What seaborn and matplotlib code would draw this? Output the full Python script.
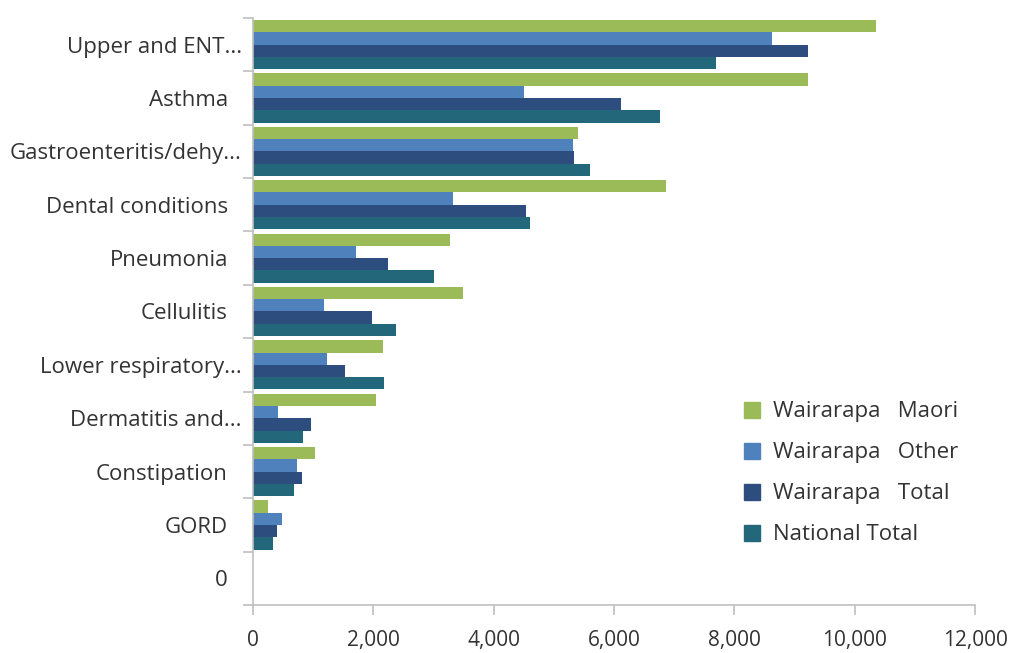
import numpy as np
import pandas as pd
import matplotlib
matplotlib.use("Agg")
import matplotlib.pyplot as plt
from matplotlib.lines import Line2D
from matplotlib.transforms import ScaledTranslation
import seaborn as sns

categories = ["Upper and ENT...", "Asthma", "Gastroenteritis/dehy...", "Dental conditions",
              "Pneumonia", "Cellulitis", "Lower respiratory...", "Dermatitis and...",
              "Constipation", "GORD"]
empty_category = "0"

series_names = ["Wairarapa   Maori", "Wairarapa   Other", "Wairarapa   Total", "National Total"]
maori = [10350, 9220, 5400, 6860, 3270, 3490, 2160, 2040, 1030, 250]
other = [8620, 4500, 5320, 3320, 1710, 1180, 1230, 420, 730, 480]
total = [9220, 6110, 5330, 4530, 2240, 1980, 1530, 960, 810, 400]
national = [7690, 6760, 5600, 4600, 3000, 2380, 2180, 830, 680, 330]

x_ticks = [0, 2000, 4000, 6000, 8000, 10000, 12000]

colors = ["#9bbb59", "#4f81bd", "#2c4d7e", "#22687a"]

sns.set_theme(style="white")
plt.rcParams["font.family"] = ["Open Sans", "DejaVu Sans"]

rows = []
for name, vals in zip(series_names, [maori, other, total, national]):
    for cat, v in zip(categories, vals):
        rows.append({"category": cat, "series": name, "value": v})
df = pd.DataFrame(rows)

fig = plt.figure(figsize=(10.13, 6.53), dpi=100)
ax = fig.add_axes([253 / 1013, 1 - 605 / 653, (975 - 253) / 1013, (605 - 18) / 653])

order = categories + [empty_category]
sns.barplot(data=df, y="category", x="value", hue="series", order=order,
            hue_order=series_names, palette=colors, orient="h", width=0.92,
            saturation=1, errorbar=None, ax=ax, legend=False, linewidth=0)

ax.set_xlim(0, 12000)
ax.set_ylim(len(order) - 0.5, -0.5)
ax.set_xticks(x_ticks)
ax.set_xticklabels([f"{t:,}" for t in x_ticks])
ax.set_xlabel("")
ax.set_ylabel("")

text_color = "#333333"
spine_color = "#bfbfbf"
for side in ["top", "right"]:
    ax.spines[side].set_visible(False)
for side in ["left", "bottom"]:
    ax.spines[side].set_color(spine_color)
    ax.spines[side].set_linewidth(1.2)

ax.set_yticks(np.arange(-0.5, len(order), 1), minor=True)
ax.tick_params(axis="y", which="major", length=0, pad=8, labelsize=16, labelcolor=text_color)
ax.tick_params(axis="y", which="minor", left=True, length=7, width=1.2, color=spine_color)
ax.tick_params(axis="x", which="major", bottom=True, length=7, width=1.2, color=spine_color,
               pad=11, labelsize=15, labelcolor=text_color)

# full-length labels sit a little further from the axis than truncated ones
for lab in ax.get_yticklabels():
    if not lab.get_text().endswith("..."):
        lab.set_transform(lab.get_transform() + ScaledTranslation(-14 / 100, 0, fig.dpi_scale_trans))

handles = [Line2D([0], [0], marker="s", linestyle="", markersize=11,
                  markerfacecolor=c, markeredgecolor=c) for c in colors]
ax.legend(handles, series_names, loc="upper left", bbox_to_anchor=(0.648, 0.381),
          frameon=False, fontsize=16, labelspacing=0.9, handletextpad=0.45,
          handlelength=1.0, labelcolor=text_color)

fig.savefig("out.png", dpi=100)
